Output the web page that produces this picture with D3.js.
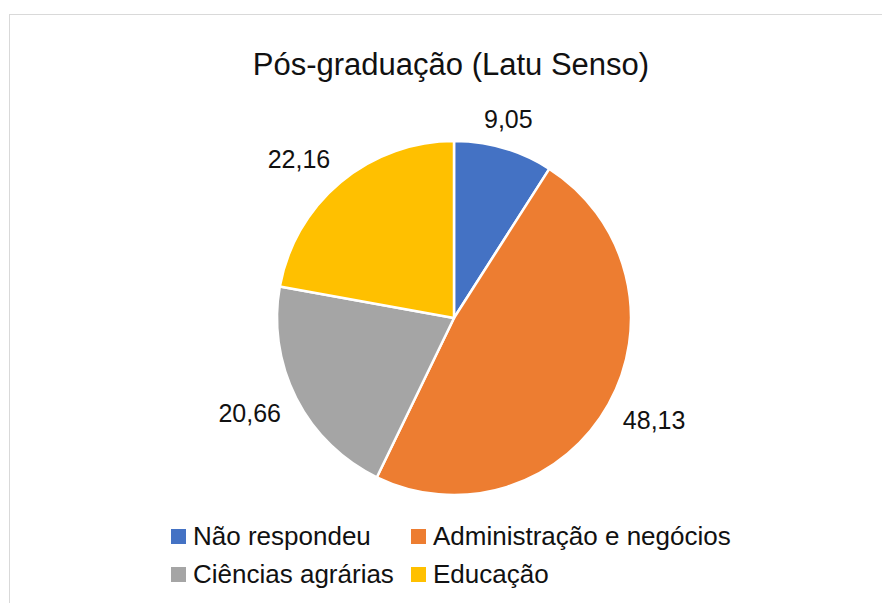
<!DOCTYPE html>
<html>
<head>
<meta charset="utf-8">
<script src="https://cdn.jsdelivr.net/npm/d3@7/dist/d3.min.js"></script>
<style>
  html, body { margin: 0; padding: 0; background: #fff; }
  svg { display: block; font-family: "Liberation Sans", Arial, sans-serif; }
</style>
</head>
<body>
<svg id="chart" width="882" height="603"></svg>
<script>
// ---- data ----
const title = "Pós-graduação (Latu Senso)";
const categories = ["Não respondeu", "Administração e negócios", "Ciências agrárias", "Educação"];
const values = [9.05, 48.13, 20.66, 22.16];
const palette = ["#4472C4", "#ED7D31", "#A5A5A5", "#FFC000"];

// ---- layout ----
const W = 882, H = 603;
const cx = 454, cy = 318, R = 177;
const labelGap = 21;

const svg = d3.select("#chart");
const fmt = d3.formatLocale({decimal: ",", thousands: ".", grouping: [3], currency: ["", ""]}).format(".2f");

// chart border
svg.append("rect")
  .attr("x", 9.5).attr("y", 14.5)
  .attr("width", W + 20).attr("height", H + 20)
  .attr("fill", "#fff").attr("stroke", "#d9d9d9").attr("stroke-width", 1);

// title
svg.append("text")
  .attr("x", 451).attr("y", 75)
  .attr("text-anchor", "middle")
  .attr("font-size", 31)
  .attr("fill", "#111")
  .text(title);

const color = d3.scaleOrdinal().domain(categories).range(palette);
const pie = d3.pie().sort(null).value(d => d.value);
const data = categories.map((c, i) => ({cat: c, value: values[i]}));
const arcs = pie(data);
const arc = d3.arc().innerRadius(0).outerRadius(R);

const g = svg.append("g").attr("transform", `translate(${cx},${cy})`);
g.selectAll("path.slice")
  .data(arcs)
  .join("path")
  .attr("class", "slice")
  .attr("d", arc)
  .attr("fill", d => color(d.data.cat))
  .attr("stroke", "#fff")
  .attr("stroke-width", 2.5)
  .attr("stroke-linejoin", "round");

// data labels, placed outside end
const labels = g.selectAll("text.lbl")
  .data(arcs)
  .join("text")
  .attr("class", "lbl")
  .attr("font-size", 25)
  .attr("fill", "#111")
  .attr("text-anchor", "middle")
  .text(d => fmt(d.data.value));

labels.each(function(d) {
  const w = this.getComputedTextLength();
  const h = 19;
  const a = (d.startAngle + d.endAngle) / 2;
  const s = Math.sin(a), c = -Math.cos(a);
  let x = (R + labelGap) * s + s * w / 2;
  const y = (R + labelGap) * c + c * h / 2;
  if (c < 0) x -= 8; // upper-half labels sit a little left
  d3.select(this).attr("x", x).attr("y", y + h / 2);
});

// legend
const colX = [171, 411];
const rowY = [529, 567];
const sq = 15;
const leg = svg.append("g");
const items = leg.selectAll("g.item")
  .data(categories)
  .join("g")
  .attr("class", "item")
  .attr("transform", (d, i) => `translate(${colX[i % 2]},${rowY[Math.floor(i / 2)]})`);
items.append("rect")
  .attr("width", sq).attr("height", sq)
  .attr("fill", d => color(d));
items.append("text")
  .attr("x", 22).attr("y", 16)
  .attr("font-size", 26)
  .attr("fill", "#111")
  .text(d => d);
</script>
</body>
</html>
